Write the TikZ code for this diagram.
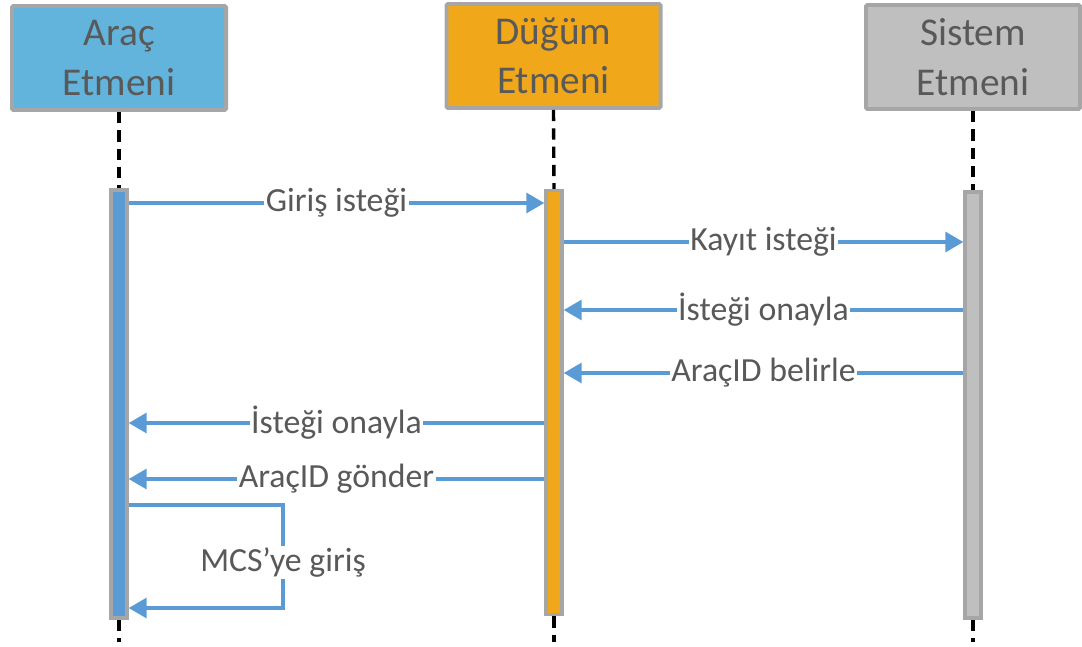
\documentclass[tikz,border=0pt]{standalone}
\usepackage{fontspec}
\setmainfont{Carlito}
\usepackage{tikz}
\usetikzlibrary{arrows.meta}
\definecolor{aracblue}{HTML}{62B4DC}
\definecolor{barblue}{HTML}{5B9BD5}
\definecolor{dugumorange}{HTML}{F0A81A}
\definecolor{sistemgray}{HTML}{BFBFBF}
\definecolor{framegray}{HTML}{A6A6A6}
\definecolor{textgray}{HTML}{595959}
\definecolor{msgblue}{HTML}{5B9BD5}

\begin{document}
\begin{tikzpicture}[x=0.025cm, y=-0.025cm,
    agent/.style={draw=framegray, line width=2.8pt, rounded corners=1pt,
      minimum width=5.35cm, minimum height=2.6cm, align=center,
      text=textgray, font=\fontsize{28}{35}\selectfont},
    actbar/.style={draw=framegray, line width=2.4pt, minimum width=0.4cm,
      inner sep=0pt},
    life/.style={black, line width=2.4pt, dash pattern=on 8pt off 5pt},
    msg/.style={msgblue, line width=2.3pt,
      -{Triangle[length=0.45cm, width=0.5cm]}},
    msglabel/.style={fill=white, text=textgray, inner sep=1pt,
      font=\fontsize{24}{28}\selectfont}]
  \useasboundingbox (0,0) rectangle (1082,646);

  % agents
  \node[agent, fill=aracblue] (arac) at (119,58) {Araç\\Etmeni};
  \node[agent, fill=dugumorange] (dugum) at (553.5,56) {Düğüm\\Etmeni};
  \node[agent, fill=sistemgray] (sistem) at (973,57) {Sistem\\Etmeni};

  % activation bars
  \node[actbar, fill=barblue, minimum height=10.7cm] (aracBar) at (119,404) {};
  \node[actbar, fill=dugumorange, minimum height=10.6cm] (dugumBar) at (554,402.5) {};
  \node[actbar, fill=sistemgray, minimum height=10.65cm] (sistemBar) at (973,405) {};

  \coordinate (aracEnd) at (119,642);
  \coordinate (dugumEnd) at (554,642);
  \coordinate (sistemEnd) at (973,642);

  % lifelines
  \draw[life] (arac.south) -- (aracBar.north);
  \draw[life] (dugum.south) -- (dugumBar.north);
  \draw[life] (sistem.south) -- (sistemBar.north);
  \draw[life] (aracBar.south) -- (aracEnd);
  \draw[life] (dugumBar.south) -- (dugumEnd);
  \draw[life] (sistemBar.south) -- (sistemEnd);

  % messages
  \draw[msg] (aracBar.east |- 0,203) -- node[msglabel] {Giriş isteği} (dugumBar.west |- 0,203);
  \draw[msg] (dugumBar.east |- 0,242) -- node[msglabel] {Kayıt isteği} (sistemBar.west |- 0,242);
  \draw[msg] (sistemBar.west |- 0,310) -- node[msglabel] {İsteği onayla} (dugumBar.east |- 0,310);
  \draw[msg] (sistemBar.west |- 0,373) -- node[msglabel] {AraçID belirle} (dugumBar.east |- 0,373);
  \draw[msg] (dugumBar.west |- 0,423) -- node[msglabel] {İsteği onayla} (aracBar.east |- 0,423);
  \draw[msg] (dugumBar.west |- 0,479) -- node[msglabel] {AraçID gönder} (aracBar.east |- 0,479);

  % self message
  \coordinate (selfTop) at (283,505);
  \coordinate (selfBot) at (283,608);
  \draw[msg] (aracBar.east |- selfTop) -- (selfTop) -- node[msglabel, yshift=-0.15cm] {MCS’ye giriş} (selfBot) -- (aracBar.east |- selfBot);
\end{tikzpicture}
\end{document}
